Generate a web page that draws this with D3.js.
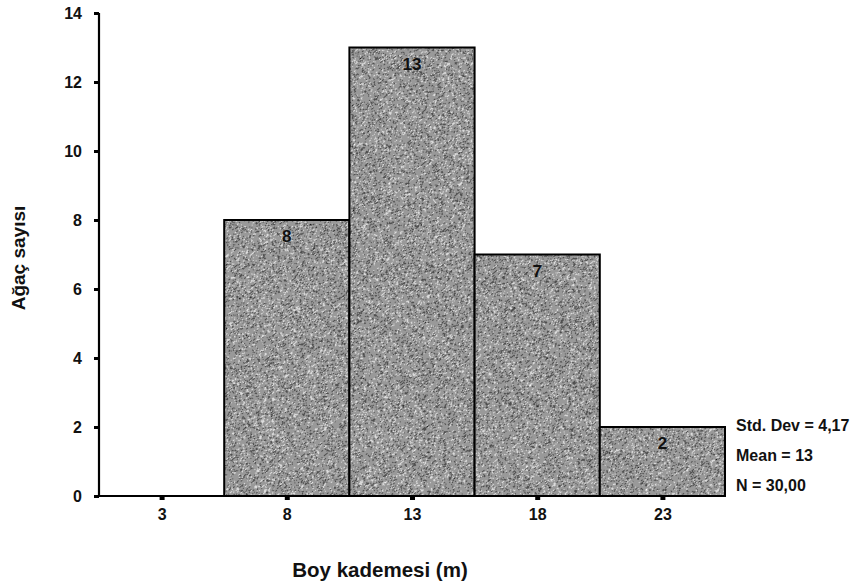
<!DOCTYPE html>
<html>
<head>
<meta charset="utf-8">
<script src="https://cdn.jsdelivr.net/npm/d3@7"></script>
<style>
  html, body { margin: 0; padding: 0; background: #fff; }
  svg { display: block; }
  text { font-family: "Liberation Sans", Arial, sans-serif; fill: #111; }
</style>
</head>
<body>
<svg id="chart" width="856" height="586"></svg>
<script>
// Tree height classes (bin midpoints, m) and tree counts
const binCenters = [3, 8, 13, 18, 23];
const counts = [0, 8, 13, 7, 2];
const binWidth = 5;
const yTicks = [0, 2, 4, 6, 8, 10, 12, 14];
const statLines = ["Std. Dev = 4,17", "Mean = 13", "N = 30,00"];
const xTitle = "Boy kademesi (m)";
const yTitle = "Ağaç sayısı";

const svg = d3.select("#chart");
const margin = { left: 99, top: 13, right: 131, bottom: 90 };
const W = 856, H = 586;

const x = d3.scaleLinear()
  .domain([binCenters[0] - binWidth / 2, binCenters[binCenters.length - 1] + binWidth / 2])
  .range([margin.left, W - margin.right]);
const y = d3.scaleLinear().domain([0, 14]).range([H - margin.bottom, margin.top]);

// Fine grainy, slightly streaked stipple fill for the bars
const defs = svg.append("defs");
const f = defs.append("filter").attr("id", "grain")
  .attr("x", 0).attr("y", 0).attr("width", 1).attr("height", 1);
f.append("feTurbulence").attr("type", "fractalNoise")
  .attr("baseFrequency", "0.4 1.8").attr("numOctaves", 2).attr("seed", 7).attr("result", "n");
f.append("feColorMatrix").attr("type", "matrix")
  .attr("values", "0.33 0.33 0.33 0 0  0.33 0.33 0.33 0 0  0.33 0.33 0.33 0 0  0 0 0 0 1")
  .attr("result", "g");
const ct = f.append("feComponentTransfer");
["R", "G", "B"].forEach(c => ct.append("feFunc" + c)
  .attr("type", "discrete").attr("tableValues", "0 0.01 0.08 0.32 0.72 1 1"));

const pat = defs.append("pattern").attr("id", "stipple")
  .attr("patternUnits", "userSpaceOnUse").attr("width", 400).attr("height", 400)
  .attr("patternTransform", "rotate(-40)");
pat.append("rect").attr("width", 400).attr("height", 400).attr("fill", "#fff")
  .attr("filter", "url(#grain)");

// Bars
const bars = binCenters.map((c, i) => ({ c, v: counts[i] }));
svg.append("g").selectAll("rect").data(bars.filter(d => d.v > 0)).join("rect")
  .attr("x", d => x(d.c - binWidth / 2))
  .attr("y", d => y(d.v))
  .attr("width", d => x(d.c + binWidth / 2) - x(d.c - binWidth / 2))
  .attr("height", d => y(0) - y(d.v))
  .attr("fill", "url(#stipple)")
  .attr("stroke", "#000").attr("stroke-width", 2);

// Value labels inside bar tops
svg.append("g").selectAll("text").data(bars.filter(d => d.v > 0)).join("text")
  .attr("x", d => x(d.c))
  .attr("y", d => y(d.v) + 22)
  .attr("text-anchor", "middle")
  .attr("font-size", 17).attr("font-weight", "bold")
  .text(d => d.v);

// Axes
const axisY = svg.append("g").attr("transform", `translate(${margin.left},0)`)
  .call(d3.axisLeft(y).tickValues(yTicks).tickSize(5).tickPadding(12).tickFormat(d3.format("d")));
const axisX = svg.append("g").attr("transform", `translate(0,${y(0)})`)
  .call(d3.axisBottom(x).tickValues(binCenters).tickSize(4).tickPadding(9).tickFormat(d3.format("d")));
[axisX, axisY].forEach(a => {
  a.select(".domain").attr("stroke", "#000").attr("stroke-width", 2.2);
  a.selectAll(".tick line").attr("stroke", "#000").attr("stroke-width", 3);
  a.selectAll(".tick text").attr("font-size", 16).attr("font-weight", "bold")
    .attr("font-family", "Liberation Sans, Arial, sans-serif").attr("fill", "#111");
});
axisX.selectAll(".tick line").attr("stroke-width", 5);
axisX.select(".domain").attr("d", `M${x.range()[0]},0H${x.range()[1]}`);
axisY.select(".domain").attr("d", `M0,${y.range()[0]}V${y.range()[1]}`);

// Summary statistics beside the last bar
svg.append("g").selectAll("text").data(statLines).join("text")
  .attr("x", x.range()[1] + 11)
  .attr("y", (d, i) => y(2) + 4 + i * 30)
  .attr("font-size", 16).attr("font-weight", "bold")
  .text(d => d);

// Axis titles
svg.append("text")
  .attr("x", 380)
  .attr("y", 577)
  .attr("text-anchor", "middle")
  .attr("font-size", 20.5).attr("font-weight", "bold")
  .text(xTitle);
svg.append("text")
  .attr("transform", `translate(25,258) rotate(-90)`)
  .attr("text-anchor", "middle")
  .attr("font-size", 19).attr("font-weight", "bold")
  .text(yTitle);
</script>
</body>
</html>
